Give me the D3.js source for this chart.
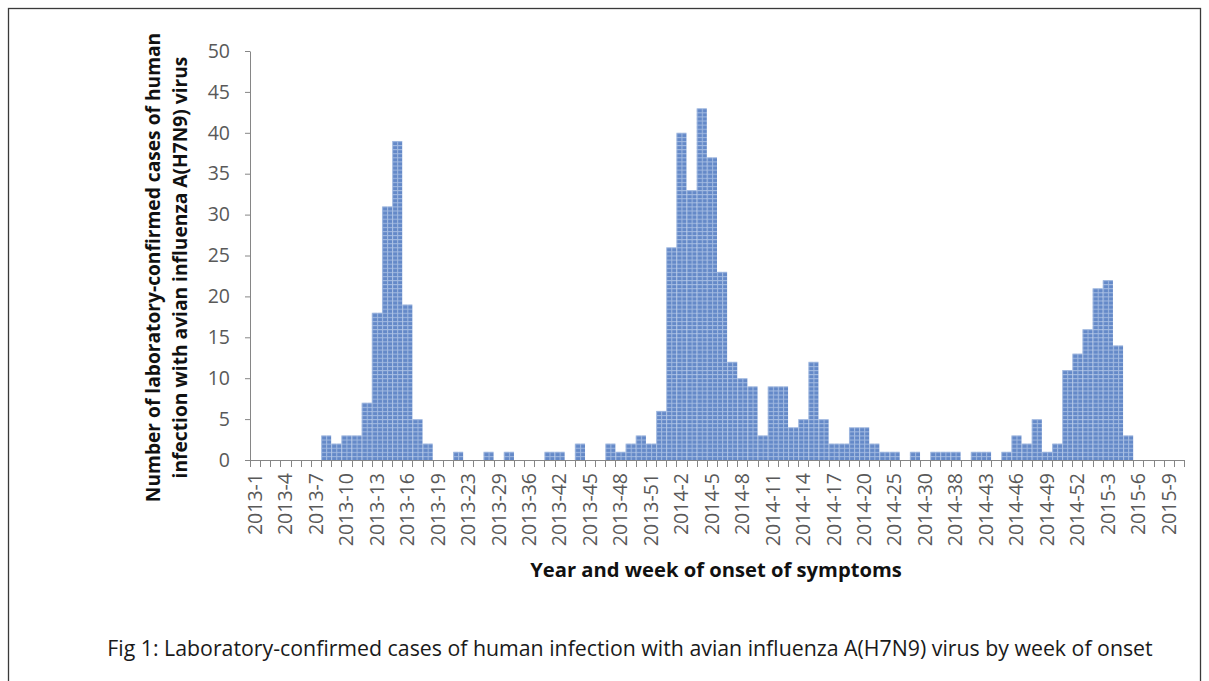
<!DOCTYPE html>
<html><head><meta charset="utf-8">
<script src="https://cdn.jsdelivr.net/npm/d3@7/dist/d3.min.js"></script>
<style>
body{margin:0;background:#fff;}
svg{display:block;font-family:"Open Sans",Lato,sans-serif;}
</style></head><body>
<svg id="c" width="1209" height="681"></svg>
<script>
// ---- data ----
const weeks = [
 "2013-1","2013-2","2013-3","2013-4","2013-5","2013-6","2013-7","2013-8","2013-9","2013-10",
 "2013-11","2013-12","2013-13","2013-14","2013-15","2013-16","2013-17","2013-18","2013-19","2013-21",
 "2013-22","2013-23","2013-25","2013-27","2013-29","2013-31","2013-33","2013-36","2013-38","2013-40",
 "2013-42","2013-43","2013-44","2013-45","2013-46","2013-47","2013-48","2013-49","2013-50","2013-51",
 "2013-52","2014-1","2014-2","2014-3","2014-4","2014-5","2014-6","2014-7","2014-8","2014-9",
 "2014-10","2014-11","2014-12","2014-13","2014-14","2014-15","2014-16","2014-17","2014-18","2014-19",
 "2014-20","2014-22","2014-23","2014-25","2014-27","2014-28","2014-30","2014-33","2014-35","2014-38",
 "2014-40","2014-42","2014-43","2014-44","2014-45","2014-46","2014-47","2014-48","2014-49","2014-50",
 "2014-51","2014-52","2015-1","2015-2","2015-3","2015-4","2015-5","2015-6","2015-7","2015-8",
 "2015-9","2015-10"
];
const cases = [
 0,0,0,0,0,0,0,3,2,3,
 3,7,18,31,39,19,5,2,0,0,
 1,0,0,1,0,1,0,0,0,1,
 1,0,2,0,0,2,1,2,3,2,
 6,26,40,33,43,37,23,12,10,9,
 3,9,9,4,5,12,5,2,2,4,
 4,2,1,1,0,1,0,1,1,1,
 0,1,1,0,1,3,2,5,1,2,
 11,13,16,21,22,14,3,0,0,0,
 0,0
];
const xTickLabels = ["2013-1","2013-4","2013-7","2013-10","2013-13","2013-16","2013-19","2013-23",
 "2013-29","2013-36","2013-42","2013-45","2013-48","2013-51","2014-2","2014-5","2014-8","2014-11",
 "2014-14","2014-17","2014-20","2014-25","2014-30","2014-38","2014-43","2014-46","2014-49","2014-52",
 "2015-3","2015-6","2015-9"];
const yTickValues = [0,5,10,15,20,25,30,35,40,45,50];
const yTitle = ["Number of laboratory-confirmed  cases of human","infection with avian influenza A(H7N9) virus"];
const xTitle = "Year and week of onset of symptoms";
const caption = "Fig 1: Laboratory-confirmed cases of human infection with avian influenza A(H7N9) virus by week of onset";

// ---- layout ----
const svg = d3.select("#c");
const axisColor = "#868686";
const labelColor = "#595959";

svg.append("rect").attr("x",8.5).attr("y",8.5).attr("width",1192).attr("height",700)
  .attr("fill","none").attr("stroke","#3a3a3a").attr("stroke-width",1.3);

const x = d3.scaleBand().domain(weeks).range([250,1184]).padding(0);
const y = d3.scaleLinear().domain([0,50]).range([460,51]);

const bw = x.bandwidth();
const cellH = (y(0)-y(1))/2;
const defs = svg.append("defs");
const pat = defs.append("pattern").attr("id","grid").attr("patternUnits","userSpaceOnUse")
  .attr("x", x.range()[0]).attr("y", y(0)).attr("width", bw/2).attr("height", cellH);
pat.append("rect").attr("width", bw/2).attr("height", cellH).attr("fill","#6489C8");
pat.append("path").attr("d",`M0,0.5H${bw/2}M0.5,0V${cellH}`)
  .attr("stroke","#A2BAE1").attr("stroke-width",1).attr("fill","none");

// bars
svg.append("g").selectAll("rect").data(weeks.map((w,i)=>({w, v:cases[i]})).filter(d=>d.v>0))
  .join("rect")
  .attr("x", d=>x(d.w)).attr("width", bw)
  .attr("y", d=>y(d.v)).attr("height", d=>y(0)-y(d.v))
  .attr("fill","url(#grid)");

// y axis
const gy = svg.append("g").attr("transform",`translate(${x.range()[0]},0)`)
  .call(d3.axisLeft(y).tickValues(yTickValues).tickSize(5).tickPadding(15).tickSizeOuter(0));
gy.select(".domain").attr("stroke",axisColor);
gy.selectAll(".tick line").attr("stroke",axisColor);
gy.selectAll(".tick text").attr("fill",labelColor).attr("font-size",19.5).attr("font-family","'Open Sans',sans-serif");

// x axis line + ticks at category boundaries
const gx = svg.append("g");
gx.append("line").attr("x1",x.range()[0]).attr("x2",x.range()[1])
  .attr("y1",y(0)+0.5).attr("y2",y(0)+0.5).attr("stroke",axisColor);
const bounds = weeks.map(w=>x(w)).concat([x.range()[1]]);
gx.selectAll("line.t").data(bounds).join("line").attr("class","t")
  .attr("x1",d=>Math.round(d)+0.5).attr("x2",d=>Math.round(d)+0.5)
  .attr("y1",y(0)).attr("y2",y(0)+7).attr("stroke",axisColor);
gx.selectAll("text").data(xTickLabels).join("text")
  .attr("transform",d=>`translate(${x(d)+bw/2},${y(0)+13}) rotate(-90)`)
  .attr("text-anchor","end").attr("dy","0.35em")
  .attr("fill",labelColor).attr("font-size",19.5).text(d=>d);

// titles
const yt = svg.append("text").attr("transform",`translate(0,${(y(0)+y(50))/2+12}) rotate(-90)`)
  .attr("text-anchor","middle").attr("font-weight","bold").attr("font-size",19.2).attr("fill","#111");
yt.selectAll("tspan").data(yTitle).join("tspan").attr("x",0).attr("y",(d,i)=>160+i*27).text(d=>d);

svg.append("text").attr("x",716).attr("y",577).attr("text-anchor","middle")
  .attr("font-weight","bold").attr("font-size",20.2).attr("fill","#111").text(xTitle);

svg.append("text").attr("x",630).attr("y",656).attr("text-anchor","middle")
  .attr("font-size",21.3).attr("fill","#1a1a1a").text(caption);
</script>
</body></html>
